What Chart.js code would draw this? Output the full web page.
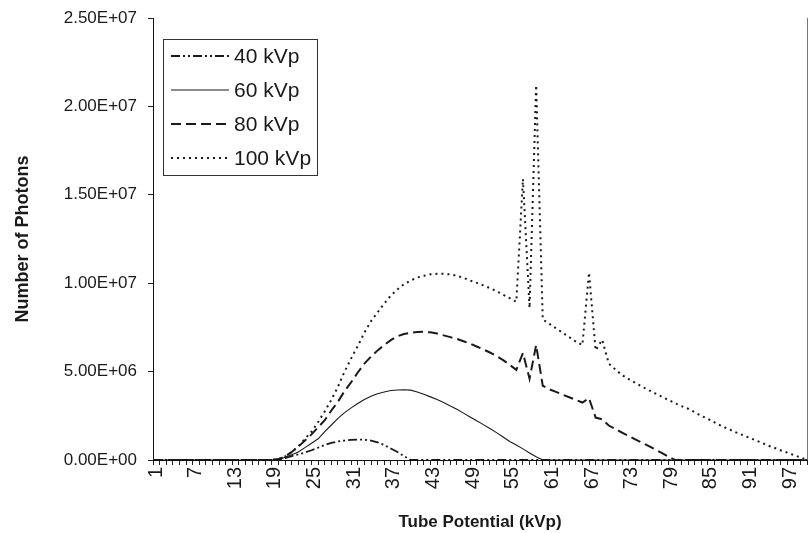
<!DOCTYPE html>
<html>
<head>
<meta charset="utf-8">
<title>X-ray spectra by tube potential</title>
<script src="https://cdn.jsdelivr.net/npm/chart.js@4/dist/chart.umd.min.js"></script>
<style>
  html, body { margin: 0; padding: 0; background: #fff; }
  #wrap { width: 812px; height: 533px; }
</style>
</head>
<body>
<div id="wrap"><canvas id="c" width="812" height="533"></canvas></div>
<script>
// Energy bins (kVp) along the x axis
const energies = Array.from({ length: 100 }, (_, i) => String(i + 1));

// Photon counts per bin, in millions of photons
const kvp40 = [
  0,0,0,0,0,0,0,0,0,0, 0,0,0,0,0,0,0,0,0,0.02,
  0.10,0.22,0.32,0.42,0.55,0.70,0.85,0.97,1.05,1.10,
  1.14,1.16,1.15,1.10,1.00,0.85,0.65,0.45,0.22,0,
  0,0,0,0,0,0,0,0,0,0, 0,0,0,0,0,0,0,0,0,0,
  0,0,0,0,0,0,0,0,0,0, 0,0,0,0,0,0,0,0,0,0,
  0,0,0,0,0,0,0,0,0,0, 0,0,0,0,0,0,0,0,0,0
];
const kvp60 = [
  0,0,0,0,0,0,0,0,0,0, 0,0,0,0,0,0,0,0,0,0.02,
  0.15,0.30,0.45,0.70,0.95,1.20,1.60,1.98,2.35,2.68,
  2.95,3.20,3.42,3.60,3.75,3.85,3.93,3.96,3.97,3.95,
  3.85,3.72,3.57,3.42,3.25,3.05,2.87,2.65,2.43,2.22,
  2.00,1.78,1.55,1.30,1.05,0.85,0.63,0.40,0.18,0,
  0,0,0,0,0,0,0,0,0,0, 0,0,0,0,0,0,0,0,0,0,
  0,0,0,0,0,0,0,0,0,0, 0,0,0,0,0,0,0,0,0,0
];
const kvp80 = [
  0,0,0,0,0,0,0,0,0,0, 0,0,0,0,0,0,0,0,0,0.05,
  0.20,0.45,0.75,1.10,1.45,1.85,2.25,2.80,3.30,3.90,
  4.40,4.95,5.45,5.85,6.20,6.50,6.78,7.00,7.13,7.20,
  7.24,7.25,7.22,7.15,7.05,6.95,6.85,6.72,6.58,6.42,
  6.25,6.08,5.88,5.65,5.38,5.10,6.05,4.60,6.50,4.20,
  4.00,3.85,3.70,3.55,3.40,3.25,3.50,2.40,2.30,1.95,
  1.75,1.55,1.36,1.17,0.98,0.80,0.60,0.40,0.20,0,
  0,0,0,0,0,0,0,0,0,0, 0,0,0,0,0,0,0,0,0,0
];
const kvp100 = [
  0,0,0,0,0,0,0,0,0,0, 0,0,0,0,0,0,0,0,0,0.05,
  0.20,0.45,0.78,1.20,1.60,2.15,2.75,3.40,4.15,5.00,
  5.75,6.45,7.20,7.85,8.35,8.85,9.30,9.65,9.95,10.15,
  10.32,10.42,10.50,10.53,10.53,10.50,10.42,10.30,10.15,10.02,
  9.88,9.72,9.55,9.35,9.15,8.95,15.90,8.60,21.20,7.95,
  7.70,7.45,7.20,6.95,6.70,6.50,10.60,6.20,6.80,5.45,
  5.12,4.80,4.58,4.36,4.15,3.96,3.77,3.58,3.40,3.22,
  3.05,2.90,2.70,2.50,2.33,2.13,1.93,1.77,1.60,1.45,
  1.30,1.15,1.00,0.83,0.70,0.55,0.42,0.28,0.14,0
];

const seriesNames = ['40 kVp', '60 kVp', '80 kVp', '100 kVp'];
const yTicks = [0, 5e6, 1e7, 1.5e7, 2e7, 2.5e7];

const MILLION = 1e6;
const toPhotons = arr => arr.map(v => v * MILLION);

// Excel-style scientific labels, e.g. 2.50E+07
function sci(v) {
  const parts = v.toExponential(2).split('e');
  const e = parseInt(parts[1], 10);
  return parts[0] + 'E' + (e < 0 ? '-' : '+') + String(Math.abs(e)).padStart(2, '0');
}

const INK = '#1a1a1a';
const FONT = "'Liberation Sans', Arial, sans-serif";

const styles = [
  { borderDash: [9, 3, 2, 3, 2, 3], borderWidth: 1.8 },
  { borderDash: [], borderWidth: 1.1 },
  { borderDash: [10, 5], borderWidth: 2 },
  { borderDash: [2, 4], borderWidth: 2 }
];
const values = [kvp40, kvp60, kvp80, kvp100];

// Boxed legend inside the plot area, plus the right frame line
const boxLegend = {
  id: 'boxLegend',
  afterDraw(chart) {
    const ctx = chart.ctx;
    const a = chart.chartArea;
    ctx.save();
    // right frame
    ctx.strokeStyle = '#777';
    ctx.lineWidth = 1;
    ctx.beginPath();
    ctx.moveTo(a.right + 0.5, a.top);
    ctx.lineTo(a.right + 0.5, a.bottom);
    ctx.stroke();

    const x0 = a.left + 10, y0 = a.top + 21, w = 154, h = 136;
    ctx.fillStyle = '#fff';
    ctx.fillRect(x0, y0, w, h);
    ctx.strokeStyle = '#333';
    ctx.lineWidth = 1;
    ctx.strokeRect(x0 + 0.5, y0 + 0.5, w, h);

    ctx.font = '21px ' + FONT;
    ctx.textBaseline = 'middle';
    ctx.textAlign = 'left';
    chart.data.datasets.forEach((ds, i) => {
      const yy = y0 + 17 + i * 34;
      ctx.strokeStyle = ds.borderColor;
      ctx.lineWidth = ds.borderWidth;
      ctx.setLineDash(ds.borderDash || []);
      ctx.beginPath();
      ctx.moveTo(x0 + 8, yy);
      ctx.lineTo(x0 + 66, yy);
      ctx.stroke();
      ctx.setLineDash([]);
      ctx.fillStyle = INK;
      ctx.fillText(ds.label, x0 + 71, yy + 1);
    });
    ctx.restore();
  }
};

new Chart(document.getElementById('c'), {
  type: 'line',
  data: {
    labels: energies,
    datasets: values.map((arr, i) => ({
      label: seriesNames[i],
      data: toPhotons(arr),
      borderColor: INK,
      borderWidth: styles[i].borderWidth,
      borderDash: styles[i].borderDash,
      pointRadius: 0,
      tension: 0,
      fill: false
    }))
  },
  options: {
    responsive: false,
    animation: false,
    layout: { padding: { top: 18, right: 5, left: 12, bottom: 0 } },
    plugins: { legend: { display: false }, tooltip: { enabled: false } },
    scales: {
      x: {
        type: 'category',
        offset: false,
        grid: { drawOnChartArea: false, drawTicks: true, tickLength: 5, color: '#222' },
        border: { color: '#111', width: 1 },
        ticks: {
          autoSkip: false,
          maxRotation: 90,
          minRotation: 90,
          padding: 2,
          labelOffset: 3,
          color: INK,
          font: { family: FONT, size: 20 },
          callback: (v, idx) => (idx % 6 === 0 ? energies[idx] : '')
        },
        title: {
          display: true,
          text: 'Tube Potential (kVp)',
          color: INK,
          font: { family: FONT, size: 17, weight: 'bold' },
          padding: { top: 2, bottom: 0 }
        },
        afterFit: s => { s.height = 73; s.paddingLeft = 0; s.paddingRight = 0; }
      },
      y: {
        min: 0,
        max: 2.5e7,
        afterBuildTicks: s => { s.ticks = yTicks.map(v => ({ value: v })); },
        grid: { drawOnChartArea: false, drawTicks: true, tickLength: 5, color: '#222' },
        border: { color: '#111', width: 1 },
        ticks: {
          color: INK,
          padding: 11,
          font: { family: FONT, size: 17 },
          callback: v => sci(v)
        },
        title: {
          display: true,
          text: 'Number of Photons',
          color: INK,
          font: { family: FONT, size: 18, weight: 'bold' },
          padding: { top: 0, bottom: 4 }
        },
        afterFit: s => { s.width = 141; s.paddingTop = 0; s.paddingBottom = 0; }
      }
    }
  },
  plugins: [boxLegend]
});
</script>
</body>
</html>
